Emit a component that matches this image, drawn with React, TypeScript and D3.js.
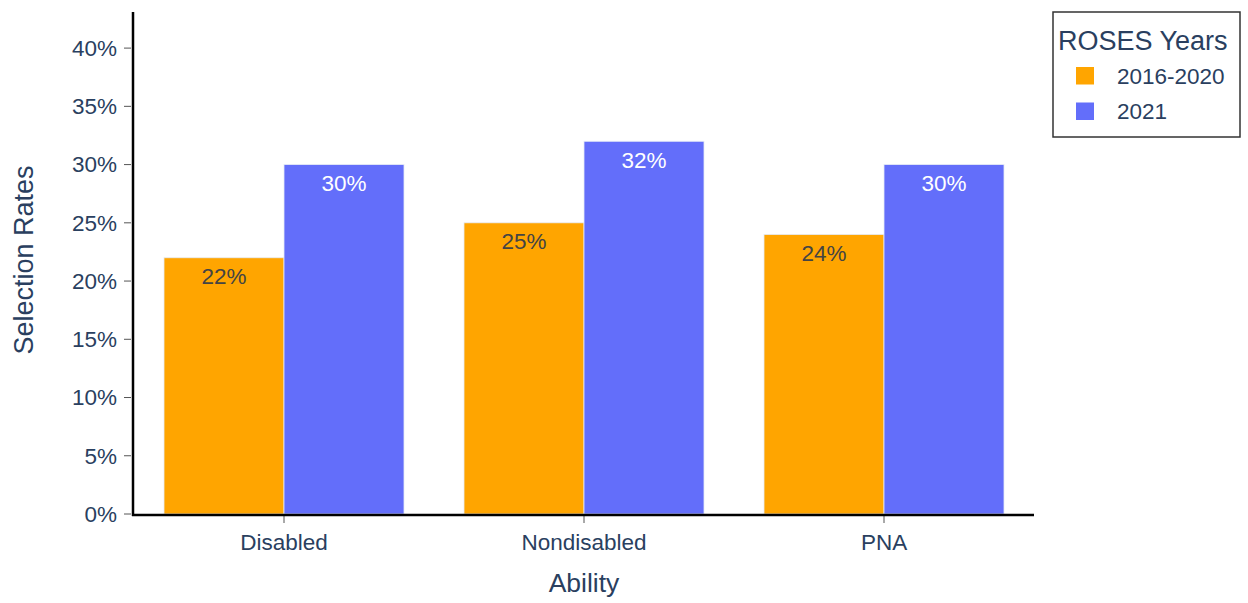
import { useMemo } from 'react';
import * as d3 from 'd3';

const categories = ['Disabled', 'Nondisabled', 'PNA'];
const seriesNames = ['2016-2020', '2021'];
const values2016 = [22, 25, 24];
const values2021 = [30, 32, 30];
const yTicks = [0, 5, 10, 15, 20, 25, 30, 35, 40];

const COLORS = ['#FFA500', '#636EFA'];
const TEXT_COLORS = ['#444444', '#ffffff'];
const FONT = '"Liberation Sans", Arial, Helvetica, sans-serif';
const INK = '#2a3f5f';

const W = 1248;
const H = 603;
const M = { top: 12, right: 214, bottom: 89, left: 134 };

export default function App() {
  const iW = W - M.left - M.right;
  const iH = H - M.top - M.bottom;

  const x0 = useMemo(
    () => d3.scaleBand<string>().domain(categories).range([0, iW]).paddingInner(0.2).paddingOuter(0.1),
    [iW],
  );
  const x1 = useMemo(
    () => d3.scaleBand<string>().domain(seriesNames).range([0, x0.bandwidth()]).padding(0),
    [x0],
  );
  const y = useMemo(() => d3.scaleLinear().domain([0, 43.1]).range([iH, 0]), [iH]);

  const series = [values2016, values2021];

  return (
    <div style={{ position: 'fixed', left: 0, top: 0 }}>
      <svg width={W} height={H} style={{ display: 'block', background: '#fff' }} fontFamily={FONT}>
        <g transform={`translate(${M.left},${M.top})`}>
          {/* bars */}
          {categories.map((cat, ci) => (
            <g key={cat} transform={`translate(${x0(cat)},0)`}>
              {seriesNames.map((s, si) => {
                const v = series[si][ci];
                const bx = x1(s) ?? 0;
                const by = y(v);
                return (
                  <g key={s}>
                    <rect
                      x={bx}
                      y={by}
                      width={x1.bandwidth()}
                      height={iH - by}
                      fill={COLORS[si]}
                      stroke="#e5ecf6"
                      strokeWidth={0.8}
                    />
                    <text
                      x={bx + x1.bandwidth() / 2}
                      y={by + 26.5}
                      textAnchor="middle"
                      fontSize={22.5}
                      fill={TEXT_COLORS[si]}
                    >
                      {`${v}%`}
                    </text>
                  </g>
                );
              })}
            </g>
          ))}

          {/* y axis ticks and labels */}
          {yTicks.map(t => (
            <g key={t} transform={`translate(0,${y(t)})`}>
              <line x1={-10} x2={-3} stroke="#555" strokeWidth={1} />
              <text x={-17} dy="0.35em" textAnchor="end" fontSize={22.5} fill={INK}>
                {`${t}%`}
              </text>
            </g>
          ))}

          {/* x axis ticks and labels */}
          {categories.map(cat => {
            const cx = (x0(cat) ?? 0) + x0.bandwidth() / 2;
            return (
              <g key={cat} transform={`translate(${cx},${iH})`}>
                <line y1={2} y2={9} stroke="#555" strokeWidth={1} />
                <text y={36} textAnchor="middle" fontSize={22.5} fill={INK}>
                  {cat}
                </text>
              </g>
            );
          })}

          {/* axis lines */}
          <line x1={-1} x2={-1} y1={0} y2={iH + 2} stroke="#000" strokeWidth={2.5} />
          <line x1={-2} x2={iW} y1={iH + 1} y2={iH + 1} stroke="#000" strokeWidth={2.5} />

          {/* axis titles */}
          <text x={iW / 2} y={iH + 78} textAnchor="middle" fontSize={26.5} fill={INK}>
            Ability
          </text>
          <text
            transform={`translate(${-101},${iH / 2 - 3}) rotate(-90)`}
            textAnchor="middle"
            fontSize={27}
            fill={INK}
          >
            Selection Rates
          </text>
        </g>

        {/* legend */}
        <g transform="translate(1053,12)">
          <rect width={187} height={125} fill="#fff" stroke="#333" strokeWidth={1.5} />
          <text x={5} y={38} fontSize={27} fill={INK}>
            ROSES Years
          </text>
          {seriesNames.map((s, i) => (
            <g key={s} transform={`translate(0,${63.5 + i * 35.5})`}>
              <rect x={23} y={-8.5} width={18} height={17.5} fill={COLORS[i]} />
              <text x={64} y={8} fontSize={22.5} fill={INK}>
                {s}
              </text>
            </g>
          ))}
        </g>
      </svg>
    </div>
  );
}
